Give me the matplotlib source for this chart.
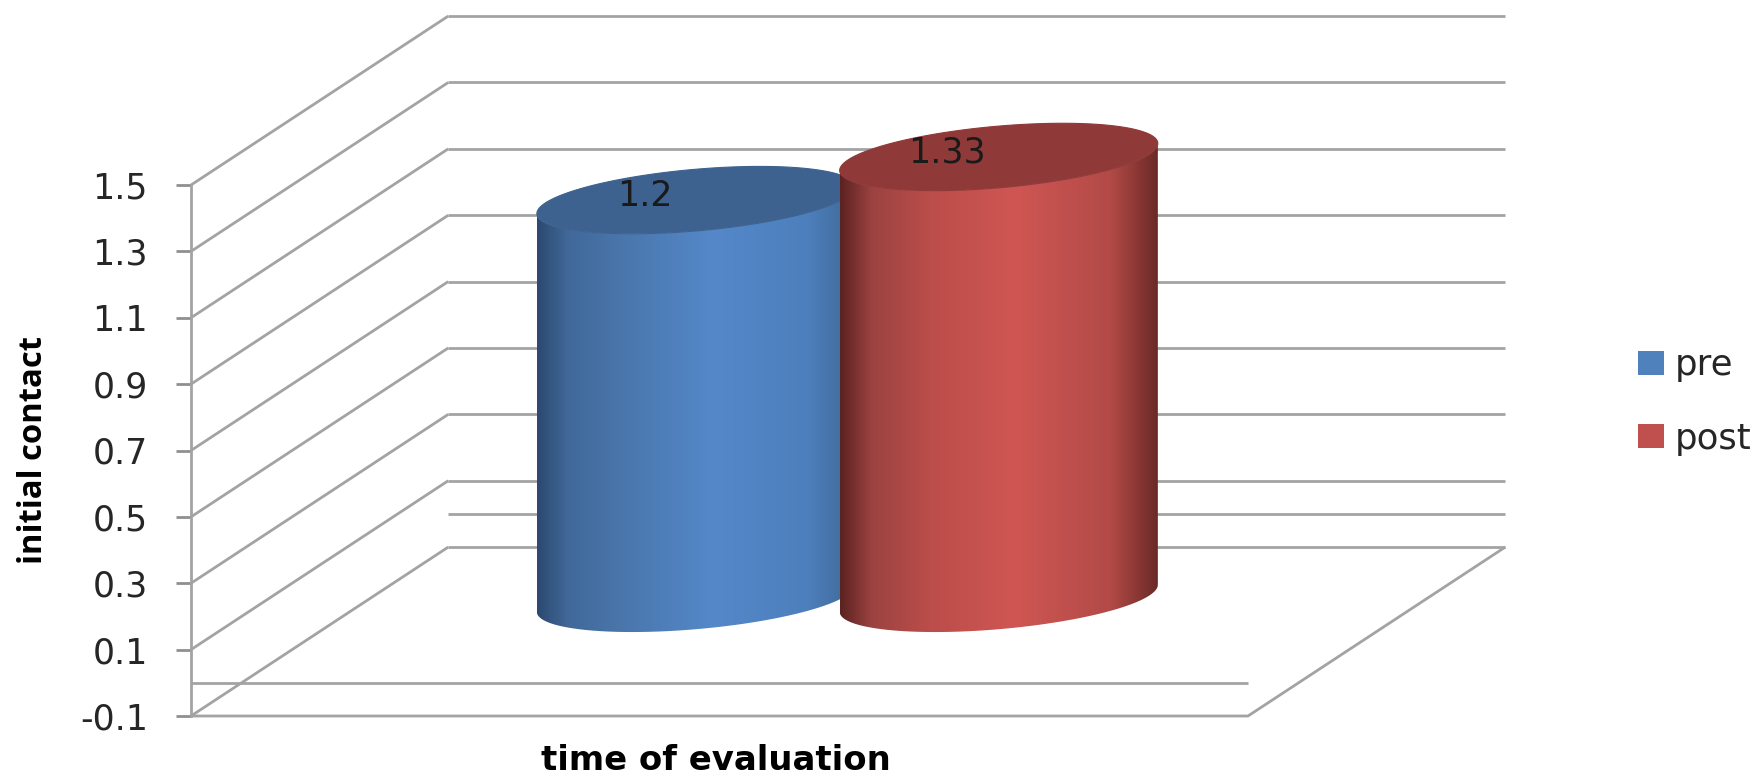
import numpy as np
import matplotlib
matplotlib.use("Agg")
import matplotlib.pyplot as plt
from matplotlib.colors import LinearSegmentedColormap
from matplotlib.patches import Patch
from matplotlib.path import Path

# Chart data
series_names = ["pre", "post"]
series_values = [1.2, 1.33]
value_ticks = [-0.1, 0.1, 0.3, 0.5, 0.7, 0.9, 1.1, 1.3, 1.5]
tick_labels = ["-0.1", "0.1", "0.3", "0.5", "0.7", "0.9", "1.1", "1.3", "1.5"]
x_title = "time of evaluation"
y_title = "initial contact"

# Oblique projection: how far the back wall is shifted from the front plane
DEPTH_X = 0.2434
DEPTH_Y = 0.509
GRID = "#a3a3a3"
TEXT = "#262626"
FONT = "DejaVu Sans"
Y_TITLE_FONT = "Open Sans"

# Cylinder geometry
OFFSETS = [-0.144, 0.1425]
RX = 0.1505
RY = 0.093
TILT = 0.0407
body_stops = [
    ["#2c4a70", "#41699a", "#4a77ad", "#5488c9", "#4d7fbc", "#3f6896"],
    ["#5c2221", "#9c4341", "#bb4d4a", "#cf5653", "#b24a47", "#6a2926"],
]
top_colors = ["#3e628f", "#8f3a38"]
legend_colors = ["#4f81bd", "#c0504d"]

fig = plt.figure(figsize=(17.6, 7.77), dpi=100, facecolor="white")
ax = fig.add_axes([191 / 1760, 1 - 716 / 777, 1057 / 1760, 531 / 777])
ax.set_xlim(0, 1)
ax.set_ylim(-0.1, 1.5)
ax.patch.set_alpha(0)

grid_style = dict(color=GRID, lw=2.0, clip_on=False, zorder=1, solid_capstyle="butt")

# Back wall lines and the diagonals on the side wall
for v in value_ticks:
    ax.plot([DEPTH_X, 1 + DEPTH_X], [v + DEPTH_Y, v + DEPTH_Y], **grid_style)
    ax.plot([0, DEPTH_X], [v, v + DEPTH_Y], **grid_style)

# Baseline at zero, on both the back wall and the front edge
ax.plot([DEPTH_X, 1 + DEPTH_X], [DEPTH_Y, DEPTH_Y], **grid_style)
ax.plot([0, 1], [0, 0], **grid_style)

# Floor outline
ax.plot([0, 1, 1 + DEPTH_X], [-0.1, -0.1, -0.1 + DEPTH_Y], **grid_style)


def rim(cx, cy, t):
    return cx + RX * np.cos(t), cy + RY * np.sin(t) + TILT * np.cos(t)


def draw_cylinder(cx, base, top, stops, top_color, z):
    lower = np.linspace(np.pi, 2 * np.pi, 80)
    bx, by = rim(cx, base, lower)
    ux, uy = rim(cx, top, lower[::-1])
    verts = np.vstack([np.column_stack([bx, by]), np.column_stack([ux, uy]), [[bx[0], by[0]]]])
    codes = [Path.MOVETO] + [Path.LINETO] * (len(verts) - 2) + [Path.CLOSEPOLY]

    cmap = LinearSegmentedColormap.from_list(
        "shade", list(zip([0, 0.1, 0.28, 0.55, 0.85, 1], stops)))
    img = ax.imshow(np.linspace(0, 1, 256)[None, :], cmap=cmap, aspect="auto",
                    extent=[cx - RX, cx + RX, base - 0.3, top + 0.3], zorder=z,
                    interpolation="bilinear")
    img.set_clip_path(Path(verts, codes), ax.transData)
    img.set_clip_box(fig.bbox)

    whole = np.linspace(0, 2 * np.pi, 200)
    tx, ty = rim(cx, top, whole)
    ax.fill(tx, ty, facecolor=top_color, edgecolor=top_color, lw=0.8,
            clip_on=False, zorder=z + 0.1)


base_level = DEPTH_Y / 2
for i, (val, off) in enumerate(zip(series_values, OFFSETS)):
    cx = 0.5 + off + DEPTH_X / 2
    top = val + base_level
    draw_cylinder(cx, base_level, top, body_stops[i], top_colors[i], 3 + i)
    ax.annotate(f"{val:g}", (cx, top), xytext=(-37, 3), textcoords="offset points",
                ha="center", va="center", fontsize=25, color="#1a1a1a",
                family=FONT, zorder=10, annotation_clip=False)

ax.set_xlim(0, 1)
ax.set_ylim(-0.1, 1.5)

# Axes furniture
for name in ["top", "right", "bottom"]:
    ax.spines[name].set_visible(False)
ax.spines["left"].set_color(GRID)
ax.spines["left"].set_linewidth(2.0)
ax.set_xticks([])
ax.set_yticks(value_ticks)
ax.set_yticklabels(tick_labels, family=FONT, fontsize=25, color=TEXT)
ax.tick_params(axis="y", length=11, width=2.0, color="#8f8f8f", pad=20)

ax.set_xlabel(x_title, family=FONT, fontsize=24.4, fontweight="bold", color="black")
ax.xaxis.set_label_coords(0.497, -0.052)
ax.set_ylabel(y_title, family=Y_TITLE_FONT, fontsize=23.6, fontweight="bold", color="black")
ax.yaxis.set_label_coords(-0.1337, 0.5)

handles = [Patch(facecolor=c, edgecolor="none") for c in legend_colors]
fig.legend(handles, series_names, loc="center left",
           bbox_to_anchor=(1638 / 1760, 1 - 402 / 777), frameon=False,
           borderpad=0, borderaxespad=0,
           prop={"family": FONT, "size": 25.6}, labelcolor=TEXT,
           handlelength=0.73, handleheight=0.65, handletextpad=0.31, labelspacing=1.1)

fig.savefig("out.png", dpi=100, facecolor="white")
